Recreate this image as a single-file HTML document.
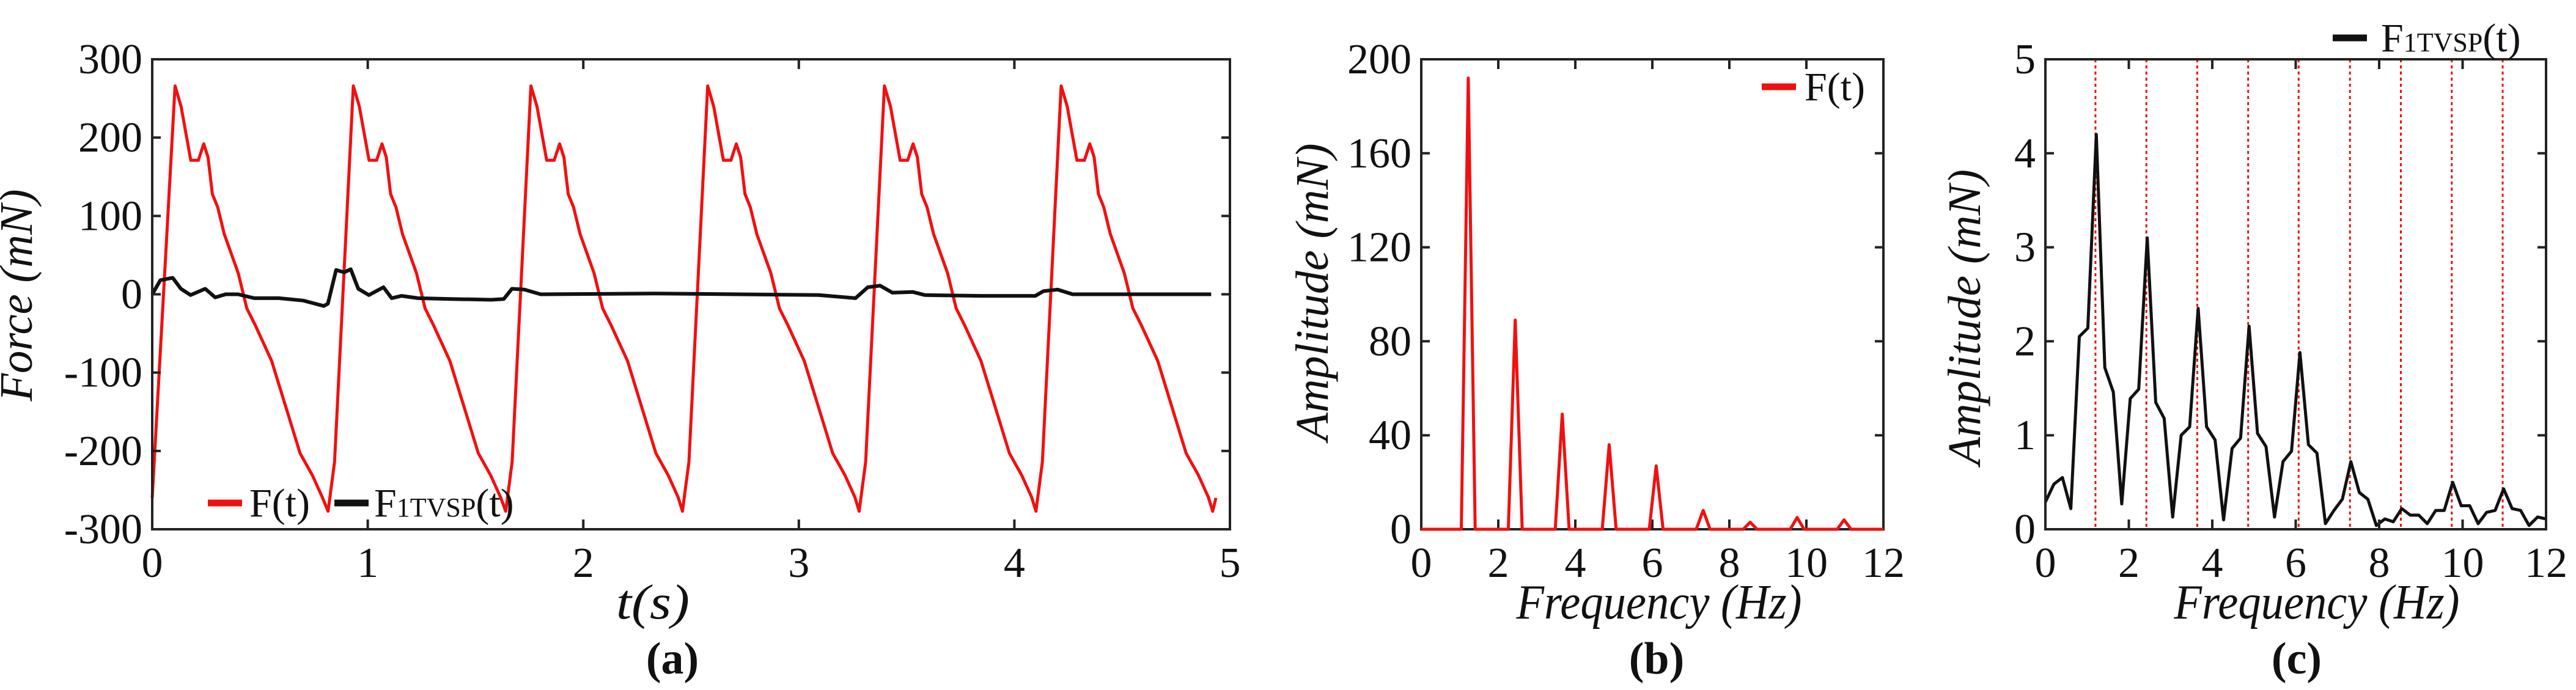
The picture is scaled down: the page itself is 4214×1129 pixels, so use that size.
<!DOCTYPE html>
<html><head><meta charset="utf-8"><style>
html,body{margin:0;padding:0;background:#fff;}
svg{display:block;font-family:"Liberation Serif","DejaVu Serif",serif;}
svg text{font-family:"Liberation Serif","DejaVu Serif",serif;fill:#111;}
</style></head><body>
<svg id="fig" width="4214" height="1129" viewBox="0 0 4214 1129" xmlns="http://www.w3.org/2000/svg" font-family="Liberation Serif, DejaVu Serif, serif">
<g id="pa"></g>
<g id="pb"></g>
<g id="pc"></g>
</svg>
<script>
// ---- Panel (a) data ----
const forceTimes = [0,0.106,0.134,0.179,0.214,0.239,0.259,0.279,0.304,0.334,0.399,0.439,0.479,0.554,0.629,0.686,0.743,0.789,
0.816,0.846,0.933,0.961,1.006,1.041,1.066,1.086,1.106,1.131,1.161,1.226,1.266,1.306,1.381,1.456,1.513,1.570,1.616,
1.64,1.67,1.757,1.785,1.83,1.865,1.89,1.91,1.93,1.955,1.985,2.05,2.09,2.13,2.205,2.28,2.337,2.394,2.44,
2.46,2.49,2.577,2.605,2.65,2.685,2.71,2.73,2.75,2.775,2.805,2.87,2.91,2.95,3.025,3.1,3.157,3.214,3.26,
3.28,3.31,3.397,3.425,3.47,3.505,3.53,3.55,3.57,3.595,3.625,3.69,3.73,3.77,3.845,3.92,3.977,4.034,4.08,
4.10,4.13,4.217,4.245,4.29,4.325,4.35,4.37,4.39,4.415,4.445,4.51,4.55,4.59,4.665,4.74,4.797,4.854,4.9,4.92,4.935];
const forceValues = [-260,266,240,171,171,192,175,128,111,77,27,-18,-40,-85,-152,-203,-231,-259,
-277,-214,266,240,171,171,192,175,128,111,77,27,-18,-40,-85,-152,-203,-231,-259,
-277,-214,266,240,171,171,192,175,128,111,77,27,-18,-40,-85,-152,-203,-231,-259,
-277,-214,266,240,171,171,192,175,128,111,77,27,-18,-40,-85,-152,-203,-231,-259,
-277,-214,266,240,171,171,192,175,128,111,77,27,-18,-40,-85,-152,-203,-231,-259,
-277,-214,266,240,171,171,192,175,128,111,77,27,-18,-40,-85,-152,-203,-231,-259,-277,-260];
const tvspTimes = [0,0.038,0.095,0.133,0.178,0.246,0.292,0.341,0.398,0.474,0.588,0.701,0.796,0.815,0.853,0.891,0.921,0.956,1.005,1.073,1.111,1.157,1.233,1.385,1.574,1.631,1.669,1.726,1.802,2.333,2.712,3.092,3.263,3.32,3.377,3.434,3.528,3.585,3.85,4.097,4.135,4.2,4.27,4.609,4.913];
const tvspValues = [0,18,21,7,-1,7,-4,0,0,-5,-5,-8,-15,-12,31,28,32,7,-1,9,-5,-2,-5,-6,-7,-6,7,6,0,1,0,-1,-5,9,11,2,3,-1,-2,-2,4,6,0,0,0];
const aXTicks = [0,1,2,3,4,5];
const aYTicks = [-300,-200,-100,0,100,200,300];
// ---- Panel (b) data ----
const peakFreqs = [1.22,2.44,3.66,4.88,6.10,7.32,8.54,9.76,10.98];
const peakAmps = [192,89,49,36,27,8,3,5,4];
const bXTicks = [0,2,4,6,8,10,12];
const bYTicks = [0,40,80,120,160,200];
// ---- Panel (c) data ----
const cAmps = [0.29,0.48,0.55,0.22,2.05,2.14,4.2,1.72,1.46,0.27,
1.39,1.49,3.1,1.35,1.18,0.13,1.0,1.09,2.35,1.09,
0.95,0.1,0.86,0.97,2.16,1.02,0.88,0.13,0.72,0.83,
1.88,0.9,0.81,0.06,0.2,0.32,0.72,0.39,0.32,0.04,
0.11,0.08,0.22,0.15,0.15,0.06,0.2,0.2,0.5,0.25,
0.25,0.06,0.18,0.2,0.43,0.22,0.2,0.04,0.13,0.11];
const cMaxFreq = 12;
const harmonicLines = [1.2,2.42,3.64,4.86,6.07,7.3,8.52,9.74,10.96];
const cXTicks = [0,2,4,6,8,10,12];
const cYTicks = [0,1,2,3,4,5];

const NS = "http://www.w3.org/2000/svg";
const SERIF = "Liberation Serif, DejaVu Serif, serif";
function mk(parent, tag, attrs, txt){
  const e = document.createElementNS(NS, tag);
  for (const k in attrs) e.setAttribute(k, attrs[k]);
  if (tag === 'text') e.setAttribute('font-family', SERIF);
  if (txt !== undefined) e.textContent = txt;
  parent.appendChild(e);
  return e;
}
function scale(d0,d1,r0,r1){return v => r0 + (v-d0)/(d1-d0)*(r1-r0);}

function axes(g, box, xs, ys, xTicks, yTicks){
  const {x0,x1,y0,y1} = box;
  const frame = mk(g,'rect',{x:x0,y:y0,width:x1-x0,height:y1-y0,fill:'none',stroke:'#222','stroke-width':4});
  
  
  xTicks.forEach(t=>{
    const x = xs(t);
    const tk = mk(g,'path',{d:`M${x},${y1}v-16M${x},${y0}v16`,stroke:'#222','stroke-width':4});
    
    
    const lb = mk(g,'text',{x:x,y:y1+78,'font-size':70,'text-anchor':'middle'},String(t));
    
    
  });
  yTicks.forEach(t=>{
    const y = ys(t);
    const tk = mk(g,'path',{d:`M${x0},${y}h14M${x1},${y}h-14`,stroke:'#222','stroke-width':4});
    
    
    const lb = mk(g,'text',{x:x0-16,y:y+23,'font-size':70,'text-anchor':'end'},String(t));
    
    
  });
}
function ytitle(g, cx, cy, len, s){
  const t = mk(g,'text',{x:0,y:0,'font-size':76,'font-style':'italic','text-anchor':'middle',
    transform:`translate(${cx},${cy}) rotate(-90)`,textLength:len,lengthAdjust:'spacingAndGlyphs'},s);
  
  
}
function xtitle(g, cx, y, len, s){
  const t = mk(g,'text',{x:cx,y:y,'font-size':80,'font-style':'italic','text-anchor':'middle',textLength:len,lengthAdjust:'spacingAndGlyphs'},s);
  
  
}
function caption(g, cx, s){
  const t = mk(g,'text',{x:cx,y:1102,'font-size':74,'font-weight':'bold','text-anchor':'middle'},s);
  
  
}
function poly(g, pts, color, w, name){
  const p = mk(g,'polyline',{points:pts.map(p=>p[0].toFixed(1)+','+p[1].toFixed(1)).join(' '),fill:'none',stroke:color,'stroke-width':w,'stroke-linejoin':'round'});
  
  
}
function legendEntry(g, lx, ly, color, textX, main, sub, name){
  const le = mk(g,'g',{});
  
  
  mk(le,'line',{x1:lx,x2:lx+56,y1:ly,y2:ly,stroke:color,'stroke-width':11});
  const t = mk(le,'text',{x:textX,y:ly+22,'font-size':66},main);
  if (sub){
    mk(t,'tspan',{'font-size':44},sub);
    mk(t,'tspan',{'font-size':66},'(t)');
  }
}

// Panel A
(function(){
  const g = document.getElementById('pa');
  const box = {x0:249,x1:2012,y0:97,y1:866};
  const xs = scale(0,5,box.x0,box.x1), ys = scale(-300,300,box.y1,box.y0);
  poly(g, forceTimes.map((t,i)=>[xs(t),ys(forceValues[i])]), '#f01010', 5, 'series-force-ft');
  poly(g, tvspTimes.map((t,i)=>[xs(t),ys(tvspValues[i])]), '#111', 6, 'series-force-f1tvsp');
  axes(g, box, xs, ys, aXTicks, aYTicks);
  ytitle(g, 52, 483, 347, 'Force (mN)');
  xtitle(g, 1068, 1012, 120, 't(s)');
  caption(g, 1100, '(a)');
  legendEntry(g, 340, 823, '#f01010', 408, 'F(t)', null, 'legend-entry-ft');
  legendEntry(g, 547, 823, '#111', 612, 'F', '1TVSP', 'legend-entry-f1tvsp');
})();

// Panel B
(function(){
  const g = document.getElementById('pb');
  const box = {x0:2325,x1:3081,y0:97,y1:866};
  const xs = scale(0,12,box.x0,box.x1), ys = scale(0,200,box.y1,box.y0);
  const pts = [[xs(0),ys(0)]];
  peakFreqs.forEach((f,i)=>{
    pts.push([xs(f-0.18),ys(0)]);
    pts.push([xs(f),ys(peakAmps[i])]);
    pts.push([xs(f+0.18),ys(0)]);
  });
  pts.push([xs(12),ys(0)]);
  axes(g, box, xs, ys, bXTicks, bYTicks);
  poly(g, pts, '#f01010', 5, 'series-spectrum-ft');
  ytitle(g, 2172, 478, 487, 'Amplitude (mN)');
  xtitle(g, 2714, 1012, 467, 'Frequency (Hz)');
  caption(g, 2710, '(b)');
  legendEntry(g, 2882, 142, '#f01010', 2952, 'F(t)', null, 'legend-entry-ft-b');
})();

// Panel C
(function(){
  const g = document.getElementById('pc');
  const box = {x0:3346,x1:4165,y0:97,y1:866};
  const xs = scale(0,12,box.x0,box.x1), ys = scale(0,5,box.y1,box.y0);
  harmonicLines.forEach(f=>{
    const l = mk(g,'line',{x1:xs(f),x2:xs(f),y1:box.y0,y2:box.y1,stroke:'#f01010','stroke-width':3,'stroke-dasharray':'5 5'});
    
    
  });
  const step = cMaxFreq/(cAmps.length-1);
  poly(g, cAmps.map((a,i)=>[xs(i*step),ys(a)]), '#111', 5, 'series-spectrum-f1tvsp');
  axes(g, box, xs, ys, cXTicks, cYTicks);
  ytitle(g, 3239, 519, 484, 'Amplitude (mN)');
  xtitle(g, 3790, 1012, 467, 'Frequency (Hz)');
  caption(g, 3757, '(c)');
  legendEntry(g, 3816, 62, '#111', 3895, 'F', '1TVSP', 'legend-entry-f1tvsp-c');
})();
</script>
</body></html>
